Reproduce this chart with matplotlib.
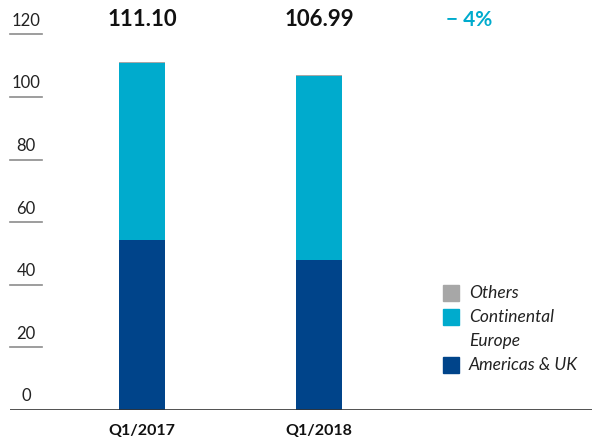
import matplotlib
matplotlib.use("Agg")
import matplotlib.pyplot as plt
from matplotlib.patches import Rectangle

plt.rcParams["font.family"] = ["Lato", "DejaVu Sans"]

periods = ["Q1/2017", "Q1/2018"]
americas_uk = [54.3, 47.9]
continental_europe = [56.5, 58.8]
others = [0.3, 0.3]
totals = ["111.10", "106.99"]
change = "\u2212 4%"
yticks = [0, 20, 40, 60, 80, 100, 120]
legend_labels = ["Others", "Continental\nEurope", "Americas & UK"]

DARK_BLUE = "#00448a"
CYAN = "#00abcd"
GREY = "#a7a7a7"

W, H = 595, 438
fig = plt.figure(figsize=(W / 100, H / 100), dpi=100)
ax = fig.add_axes([10 / W, 28 / H, 582 / W, 410 / H])

x = list(range(len(periods)))
bw = 0.26
ax.bar(x, americas_uk, bw, color=DARK_BLUE)
ax.bar(x, continental_europe, bw, bottom=americas_uk, color=CYAN)
base2 = [a + c for a, c in zip(americas_uk, continental_europe)]
ax.bar(x, others, bw, bottom=base2, color=GREY)

ax.set_xlim(-0.746, 2.542)
ax.set_ylim(0, 131)
for s in ax.spines.values():
    s.set_visible(False)
ax.set_xticks([])
ax.set_yticks([])

# baseline and short tick segments
ax.axhline(0, color="#333333", lw=1.2, zorder=3)
ytr = ax.get_yaxis_transform()
for v in yticks:
    if v > 0:
        ax.plot([0, 32 / 582], [v, v], color="#8c8c8c", lw=1.2, transform=ytr, clip_on=False)
    ax.annotate(str(v), (16 / 582, v), xycoords=ytr, xytext=(0, 4), textcoords="offset points",
                ha="center", va="bottom", fontsize=12, color="#222222")

# category labels below axis
for xi, lab in zip(x, periods):
    ax.annotate(lab, (xi, 0), xycoords="data", xytext=(0, -15), textcoords="offset points",
                ha="center", va="center", fontsize=11.5, fontweight="bold", color="#111111")

# totals on top
for xi, t in zip(x, totals):
    fig.text(ax.transData.transform((xi, 0))[0] / W, 1 - 20 / H, t, ha="center", va="center",
             fontsize=16, fontweight="bold", color="#111111")
fig.text(469 / W, 1 - 20 / H, change, ha="center", va="center", fontsize=15,
         fontweight="bold", color=CYAN)

# legend, drawn by hand so the square sits on the first line of a two-line label
line_h = 24
y_px = 293
for col, lab in zip([GREY, CYAN, DARK_BLUE], legend_labels):
    fig.patches.append(Rectangle((443 / W, 1 - (y_px + 8) / H), 16 / W, 16 / H,
                                 transform=fig.transFigure, color=col))
    for i, part in enumerate(lab.split("\n")):
        fig.text(469 / W, 1 - (y_px + i * line_h) / H, part, ha="left", va="center",
                 fontsize=12.5, style="italic", color="#222222")
    y_px += line_h * (lab.count("\n") + 1)

fig.savefig("out.png", dpi=100)
